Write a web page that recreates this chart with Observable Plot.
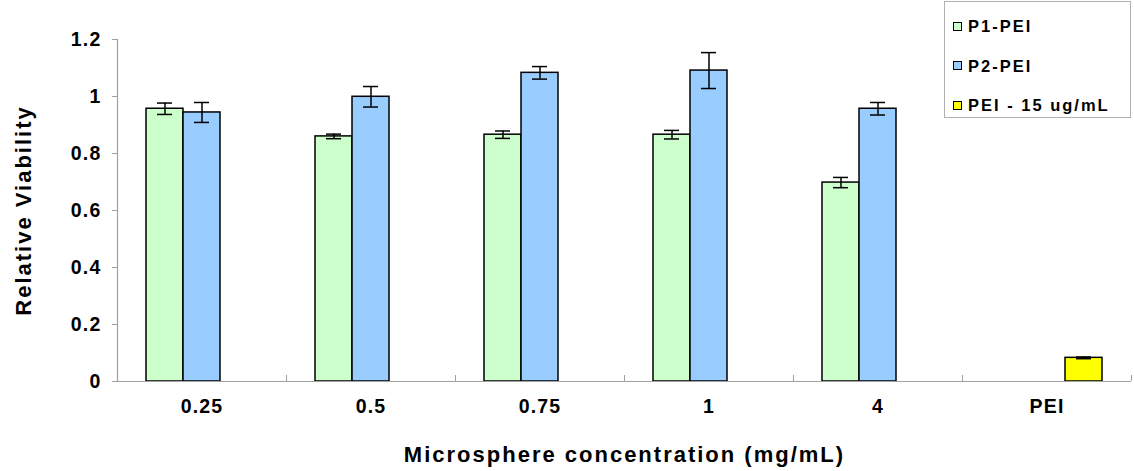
<!DOCTYPE html>
<html>
<head>
<meta charset="utf-8">
<script src="https://cdn.jsdelivr.net/npm/d3@7"></script>
<script src="https://cdn.jsdelivr.net/npm/@observablehq/plot@0.6"></script>
<style>
  html, body { margin: 0; padding: 0; background: #fff; }
  #wrap { position: relative; width: 1134px; height: 471px; font-family: "Liberation Sans", Arial, sans-serif; }
  #wrap svg text { letter-spacing: 1.2px; }
  #legend { position: absolute; left: 944px; top: 1px; width: 187px; height: 117px; border: 1px solid #b0b0b0; background: #fff; box-sizing: border-box; }
  .item { position: absolute; left: 8px; display: flex; align-items: center; font-weight: bold; font-size: 16.5px; letter-spacing: 2px; color: #000; line-height: 20px; }
  .sw { width: 7px; height: 7px; border: 1.5px solid #000; margin-right: 6px; }
</style>
</head>
<body>
<div id="wrap"></div>
<script>
const categories = ["0.25", "0.5", "0.75", "1", "4", "PEI"];
const seriesNames = ["P1-PEI", "P2-PEI", "PEI - 15 ug/mL"];
const seriesColors = ["#CCFFCC", "#99CCFF", "#FFFF00"];
const p1Categories = ["0.25", "0.5", "0.75", "1", "4"];
const p1Mean = [0.957, 0.860, 0.866, 0.866, 0.698];
const p1Err = [0.020, 0.008, 0.013, 0.015, 0.018];
const p2Categories = ["0.25", "0.5", "0.75", "1", "4"];
const p2Mean = [0.944, 0.999, 1.083, 1.091, 0.957];
const p2Err = [0.035, 0.036, 0.022, 0.063, 0.022];
const peiCategories = ["PEI"];
const peiMean = [0.083];
const peiErr = [0.003];
const yTicks = [0, 0.2, 0.4, 0.6, 0.8, 1, 1.2];

const rows = [];
[[p1Categories, p1Mean, p1Err], [p2Categories, p2Mean, p2Err], [peiCategories, peiMean, peiErr]].forEach(([cats, means, errs], s) => {
  cats.forEach((c, i) => rows.push({cat: c, series: seriesNames[s], value: means[i], lo: means[i] - errs[i], hi: means[i] + errs[i]}));
});

const font = {fontSize: 19.5, fontWeight: "bold", fontFamily: "Liberation Sans, Arial, sans-serif"};

const chart = Plot.plot({
  width: 1134,
  height: 471,
  marginLeft: 117,
  marginRight: 3,
  marginTop: 39,
  marginBottom: 90,
  style: {fontFamily: "Liberation Sans, Arial, sans-serif", color: "#000", background: "#fff"},
  fx: {domain: categories, padding: 0},
  x: {domain: seriesNames, paddingInner: 0, paddingOuter: 0.7237, axis: null},
  y: {domain: [0, 1.2]},
  color: {domain: seriesNames, range: seriesColors},
  marks: [
    Plot.rectY(rows, {fx: "cat", x: "series", y: "value", fill: "series", stroke: "#000", strokeWidth: 1.5}),
    Plot.ruleX(rows, {fx: "cat", x: "series", y1: "lo", y2: "hi", stroke: "#000", strokeWidth: 1.5}),
    Plot.tickY(rows, {fx: "cat", x: "series", y: "hi", stroke: "#000", strokeWidth: 1.5, insetLeft: 11, insetRight: 11}),
    Plot.tickY(rows, {fx: "cat", x: "series", y: "lo", stroke: "#000", strokeWidth: 1.5, insetLeft: 11, insetRight: 11}),
    Plot.ruleY([0], {stroke: "#a0a0a0", strokeWidth: 1.2}),
    Plot.frame({anchor: "left", facetAnchor: "left", stroke: "#a0a0a0", strokeWidth: 1.2}),
    Plot.axisY({ticks: yTicks, tickFormat: d => String(d), tickSize: 5, tickPadding: 11, stroke: "#a0a0a0", ...font,
      label: "Relative Viability", labelAnchor: "center", labelArrow: "none", labelOffset: 102}),
    Plot.axisFx({anchor: "bottom", tickSize: -6, dx: -84.5, text: null, label: null, stroke: "#a0a0a0"}),
    Plot.axisFx({anchor: "bottom", ticks: ["PEI"], tickSize: -6, dx: 84.5, text: null, label: null, stroke: "#a0a0a0"}),
    Plot.axisFx({anchor: "bottom", tickSize: 0, tickPadding: 18, ...font,
      label: "Microsphere concentration (mg/mL)", labelAnchor: "center", labelArrow: "none", labelOffset: 80})
  ]
});

// axis titles: larger type
chart.querySelectorAll("g[aria-label='y-axis label'] text, g[aria-label='fx-axis label'] text").forEach(t => {
  t.setAttribute("font-size", "22");
  t.style.fontSize = "22px";
  t.style.letterSpacing = "2px";
});

const wrap = document.getElementById("wrap");
wrap.appendChild(chart);

const legend = document.createElement("div");
legend.id = "legend";
seriesNames.forEach((name, i) => {
  const item = document.createElement("div");
  item.className = "item";
  item.style.top = (14 + i * 39.5) + "px";
  const sw = document.createElement("span");
  sw.className = "sw";
  sw.style.background = seriesColors[i];
  const label = document.createElement("span");
  label.textContent = name;
  item.appendChild(sw);
  item.appendChild(label);
  legend.appendChild(item);
});
wrap.appendChild(legend);
</script>
</body>
</html>
